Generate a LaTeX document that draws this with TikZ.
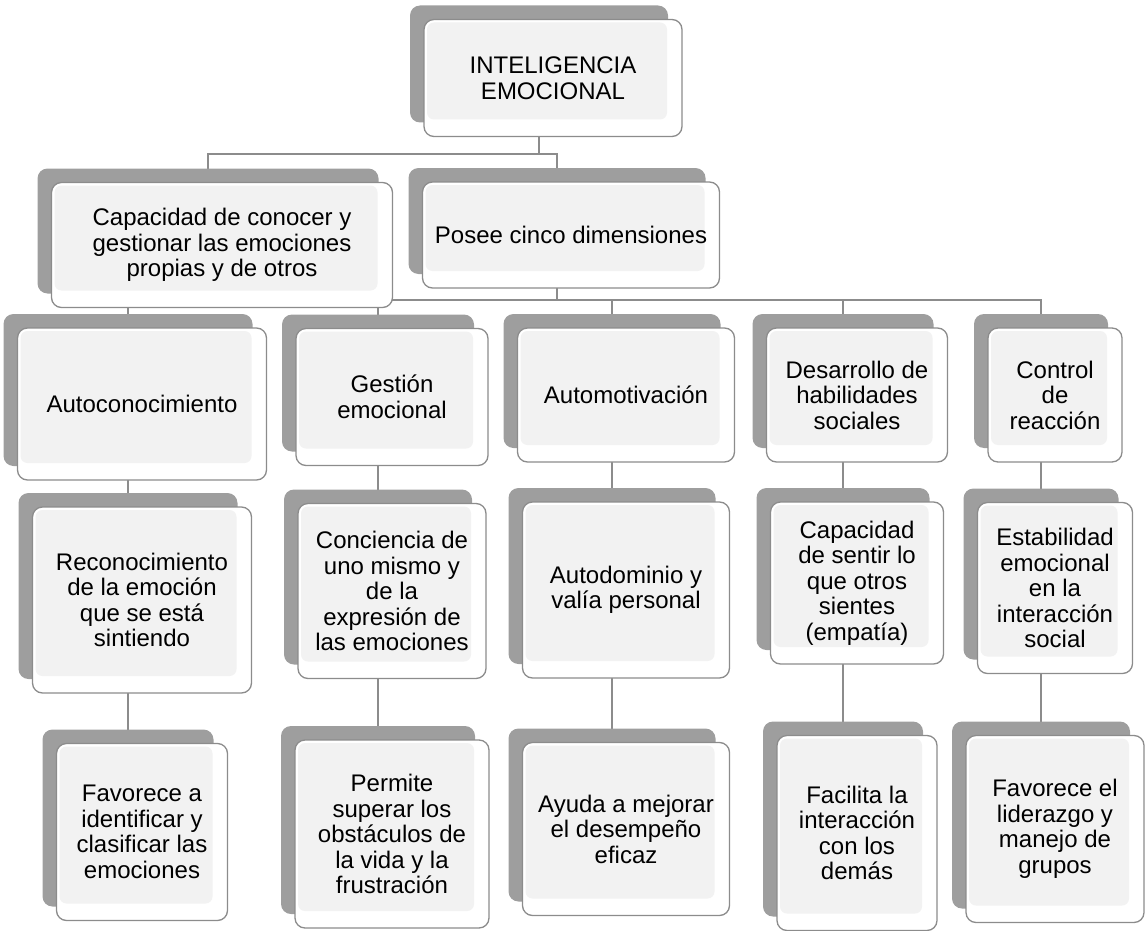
\documentclass[tikz,border=0pt]{standalone}
\usepackage{fontspec}
\setmainfont{Liberation Sans}
\usetikzlibrary{shapes.geometric}
\pgfdeclarelayer{edgelayer}
\pgfdeclarelayer{nodelayer}
\pgfsetlayers{edgelayer,nodelayer,main}
\newcommand{\cardfont}{\fontsize{24pt}{25.5pt}\selectfont}
\tikzstyle{none}=[inner sep=0pt]
\tikzstyle{backing}=[rectangle,rounded corners=10pt,fill=black!38,inner sep=0pt]
\tikzstyle{card}=[rectangle,rounded corners=10pt,draw=black!45,line width=1.3pt,fill=white,inner sep=0pt,align=center,font=\cardfont,text=black,
  path picture={\fill[black!5,rounded corners=7pt] ([shift={(3pt,17pt)}]path picture bounding box.south west) rectangle ([shift={(-15pt,-3pt)}]path picture bounding box.north east);}]
\tikzstyle{branch}=[draw=black!45,line width=1.3pt]

\begin{document}
\begin{tikzpicture}[x=1pt,y=-1pt]
	\useasboundingbox (0,0) rectangle (1148,931);
	\begin{pgfonlayer}{nodelayer}
		% shadows (connectors meet these)
		\node [style=backing, minimum width=258pt, minimum height=117pt] (0) at (539, 64) {};
		\node [style=backing, minimum width=341pt, minimum height=125pt] (1) at (208, 231) {};
		\node [style=backing, minimum width=297pt, minimum height=106pt] (2) at (557, 221) {};
		\node [style=backing, minimum width=249pt, minimum height=152pt] (3) at (128, 390) {};
		\node [style=backing, minimum width=192pt, minimum height=137pt] (4) at (378, 383) {};
		\node [style=backing, minimum width=217pt, minimum height=134pt] (5) at (612, 381) {};
		\node [style=backing, minimum width=181pt, minimum height=134pt] (6) at (843, 381) {};
		\node [style=backing, minimum width=134pt, minimum height=134pt] (7) at (1041, 381) {};
		\node [style=backing, minimum width=219pt, minimum height=186pt] (8) at (128, 586) {};
		\node [style=backing, minimum width=188pt, minimum height=175pt] (9) at (378, 577) {};
		\node [style=backing, minimum width=207pt, minimum height=176pt] (10) at (612, 576) {};
		\node [style=backing, minimum width=173pt, minimum height=162pt] (11) at (843, 569) {};
		\node [style=backing, minimum width=155pt, minimum height=171pt] (12) at (1041, 574) {};
		\node [style=backing, minimum width=171pt, minimum height=177pt] (13) at (128, 818) {};
		\node [style=backing, minimum width=194pt, minimum height=188pt] (14) at (378, 820) {};
		\node [style=backing, minimum width=207pt, minimum height=173pt] (15) at (612, 815) {};
		\node [style=backing, minimum width=160pt, minimum height=195pt] (16) at (843, 819) {};
		\node [style=backing, minimum width=178pt, minimum height=187pt] (17) at (1041, 815) {};
		% cards
		\node [style=card, minimum width=258pt, minimum height=117pt] (18) at (553, 78) {INTELIGENCIA\\EMOCIONAL};
		\node [style=card, minimum width=341pt, minimum height=125pt] (19) at (222, 245) {Capacidad de conocer y\\gestionar las emociones\\propias y de otros};
		\node [style=card, minimum width=297pt, minimum height=106pt] (20) at (571, 235) {Posee cinco dimensiones};
		\node [style=card, minimum width=249pt, minimum height=152pt] (21) at (142, 404) {Autoconocimiento};
		\node [style=card, minimum width=192pt, minimum height=137pt] (22) at (392, 397) {Gestión\\emocional};
		\node [style=card, minimum width=217pt, minimum height=134pt] (23) at (626, 395) {Automotivación};
		\node [style=card, minimum width=181pt, minimum height=134pt] (24) at (857, 395) {Desarrollo de\\habilidades\\sociales};
		\node [style=card, minimum width=134pt, minimum height=134pt] (25) at (1055, 395) {Control\\de\\reacción};
		\node [style=card, minimum width=219pt, minimum height=186pt] (26) at (142, 600) {Reconocimiento\\de la emoción\\que se está\\sintiendo};
		\node [style=card, minimum width=188pt, minimum height=175pt] (27) at (392, 591) {Conciencia de\\uno mismo y\\de la\\expresión de\\las emociones};
		\node [style=card, minimum width=207pt, minimum height=176pt] (28) at (626, 590) {Autodominio y\\valía personal};
		\node [style=card, minimum width=173pt, minimum height=162pt] (29) at (857, 583) {Capacidad\\de sentir lo\\que otros\\sientes\\(empatía)};
		\node [style=card, minimum width=155pt, minimum height=171pt] (30) at (1055, 588) {Estabilidad\\emocional\\en la\\interacción\\social};
		\node [style=card, minimum width=171pt, minimum height=177pt] (31) at (142, 832) {Favorece a\\identificar y\\clasificar las\\emociones};
		\node [style=card, minimum width=194pt, minimum height=188pt] (32) at (392, 834) {Permite\\superar los\\obstáculos de\\la vida y la\\frustración};
		\node [style=card, minimum width=207pt, minimum height=173pt] (33) at (626, 829) {Ayuda a mejorar\\el desempeño\\eficaz};
		\node [style=card, minimum width=160pt, minimum height=195pt] (34) at (857, 833) {Facilita la\\interacción\\con los\\demás};
		\node [style=card, minimum width=178pt, minimum height=187pt] (35) at (1055, 829) {Favorece el\\liderazgo y\\manejo de\\grupos};
	\end{pgfonlayer}
	\begin{pgfonlayer}{edgelayer}
		\coordinate (36) at (208, 154);
		\coordinate (37) at (128, 300);
		\draw [style=branch] (0.center) |- (36) -| (1.center);
		\draw [style=branch] (36) -| (2.center);
		\draw [style=branch] (2.center) |- (37) -| (3.center);
		\draw [style=branch] (37) -| (4.center);
		\draw [style=branch] (37) -| (5.center);
		\draw [style=branch] (37) -| (6.center);
		\draw [style=branch] (37) -| (7.center);
		\draw [style=branch] (3.center) -- (8.center);
		\draw [style=branch] (4.center) -- (9.center);
		\draw [style=branch] (5.center) -- (10.center);
		\draw [style=branch] (6.center) -- (11.center);
		\draw [style=branch] (7.center) -- (12.center);
		\draw [style=branch] (8.center) -- (13.center);
		\draw [style=branch] (9.center) -- (14.center);
		\draw [style=branch] (10.center) -- (15.center);
		\draw [style=branch] (11.center) -- (16.center);
		\draw [style=branch] (12.center) -- (17.center);
	\end{pgfonlayer}
\end{tikzpicture}
\end{document}
